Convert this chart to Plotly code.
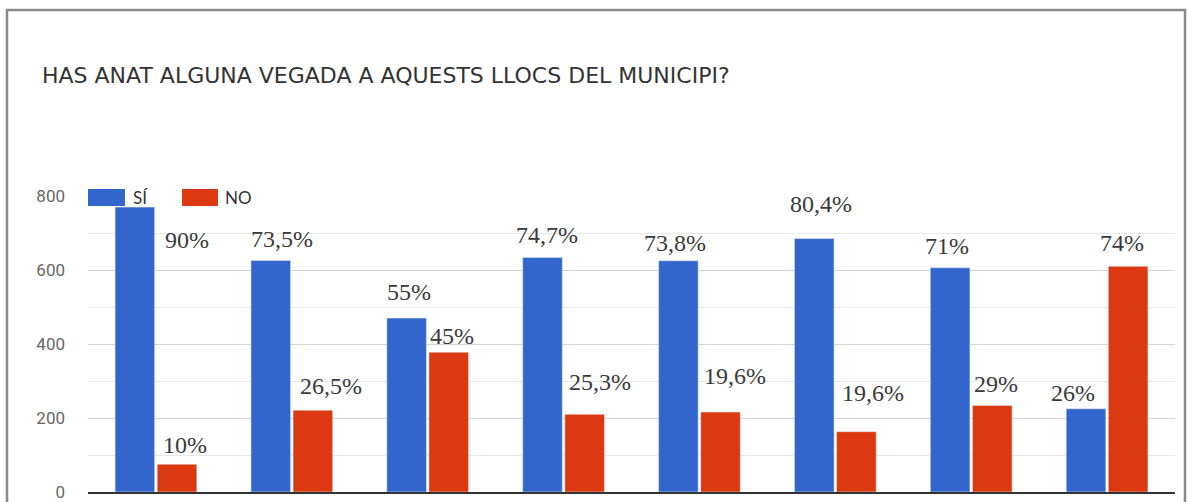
import plotly.graph_objects as go

# ---- data ----
categories = ["Lloc 1", "Lloc 2", "Lloc 3", "Lloc 4", "Lloc 5", "Lloc 6", "Lloc 7", "Lloc 8"]
si_values = [770, 626, 470, 634, 625, 685, 606, 225]
no_values = [75, 221, 378, 210, 216, 163, 234, 610]
si_labels = ["90%", "73,5%", "55%", "74,7%", "73,8%", "80,4%", "71%", "26%"]
no_labels = ["10%", "26,5%", "45%", "25,3%", "19,6%", "19,6%", "29%", "74%"]
y_ticks = [0, 200, 400, 600, 800]

# ---- layout geometry (pixels) ----
W, H = 1189, 502
M_L, M_R, M_T, M_B = 88, 14, 196, 10
PLOT_W = W - M_L - M_R
PLOT_H = H - M_T - M_B


def paper_x(px):
    return (px - M_L) / PLOT_W


def paper_y(py):
    return (H - M_B - py) / PLOT_H


BLUE = "#3366CC"
RED = "#DC3912"

# hand-placed label offsets (pixels) relative to each bar's centre / top
si_dx = [52, 11, 2, 4, -3, 7, -3, -13]
si_dy = [-33, 21, 26, 22, 18, 35, 22, 16]
no_dx = [8, 18, 3, 15, 15, 17, 4, -6]
no_dy = [19, 24, 16, 32, 36, 39, 21, 23]
HALF = 21  # distance from category centre to each bar's centre

fig = go.Figure()
fig.add_trace(go.Bar(name="SÍ", x=categories, y=si_values, marker_color=BLUE,
                     showlegend=False, hoverinfo="x+y"))
fig.add_trace(go.Bar(name="NO", x=categories, y=no_values, marker_color=RED,
                     showlegend=False, hoverinfo="x+y"))

annotations = []
label_font = dict(family="Liberation Serif, Times New Roman, serif", size=24, color="#3a3a3a")
for i, cat in enumerate(categories):
    annotations.append(dict(x=cat, y=si_values[i], xref="x", yref="y", text=si_labels[i],
                            showarrow=False, xanchor="center", yanchor="middle",
                            xshift=-HALF + si_dx[i], yshift=si_dy[i], font=label_font))
    annotations.append(dict(x=cat, y=no_values[i], xref="x", yref="y", text=no_labels[i],
                            showarrow=False, xanchor="center", yanchor="middle",
                            xshift=HALF + no_dx[i], yshift=no_dy[i], font=label_font))

# title
annotations.append(dict(x=paper_x(40), y=paper_y(76), xref="paper", yref="paper",
                        text="HAS ANAT ALGUNA VEGADA A AQUESTS LLOCS DEL MUNICIPI?",
                        showarrow=False, xanchor="left", yanchor="middle",
                        font=dict(family="DejaVu Sans, sans-serif", size=22, color="#333333")))

# legend entries
legend_font = dict(family="Lato, Roboto, sans-serif", size=17, color="#333333")
annotations.append(dict(x=paper_x(131), y=paper_y(197), xref="paper", yref="paper", text="SÍ",
                        showarrow=False, xanchor="left", yanchor="middle", font=legend_font))
annotations.append(dict(x=paper_x(223), y=paper_y(197), xref="paper", yref="paper", text="NO",
                        showarrow=False, xanchor="left", yanchor="middle", font=legend_font))

shapes = [
    # legend swatches
    dict(type="rect", xref="paper", yref="paper", x0=paper_x(88), x1=paper_x(125),
         y0=paper_y(206), y1=paper_y(189), fillcolor=BLUE, line=dict(width=0), layer="above"),
    dict(type="rect", xref="paper", yref="paper", x0=paper_x(182), x1=paper_x(218),
         y0=paper_y(206), y1=paper_y(189), fillcolor=RED, line=dict(width=0), layer="above"),
    # outer frame
    dict(type="rect", xref="paper", yref="paper", x0=paper_x(7), x1=paper_x(1185),
         y0=paper_y(530), y1=paper_y(10), line=dict(color="#8a8a8a", width=2.5),
         fillcolor="rgba(0,0,0,0)"),
]

fig.update_layout(
    width=W, height=H,
    margin=dict(l=M_L, r=M_R, t=M_T, b=M_B, pad=0, autoexpand=False),
    paper_bgcolor="white", plot_bgcolor="white",
    barmode="group", bargap=0.38, bargroupgap=0.06,
    annotations=annotations, shapes=shapes,
    showlegend=False,
    xaxis=dict(showticklabels=False, showgrid=False, zeroline=False, automargin=False,
               showline=True, linecolor="#333333", linewidth=1.5, ticks=""),
    yaxis=dict(range=[0, 800], tickvals=y_ticks, showgrid=True, gridcolor="#d6d6d6",
               gridwidth=1, zeroline=False, showline=False, ticks="", automargin=False,
               ticklabelstandoff=22, ticklabeloverflow="allow",
               tickfont=dict(family="Roboto, sans-serif", size=17, color="#666666"),
               minor=dict(dtick=100, tick0=0, showgrid=True, gridcolor="#e8e8e8", gridwidth=1)),
)

fig.write_html("out.html")
